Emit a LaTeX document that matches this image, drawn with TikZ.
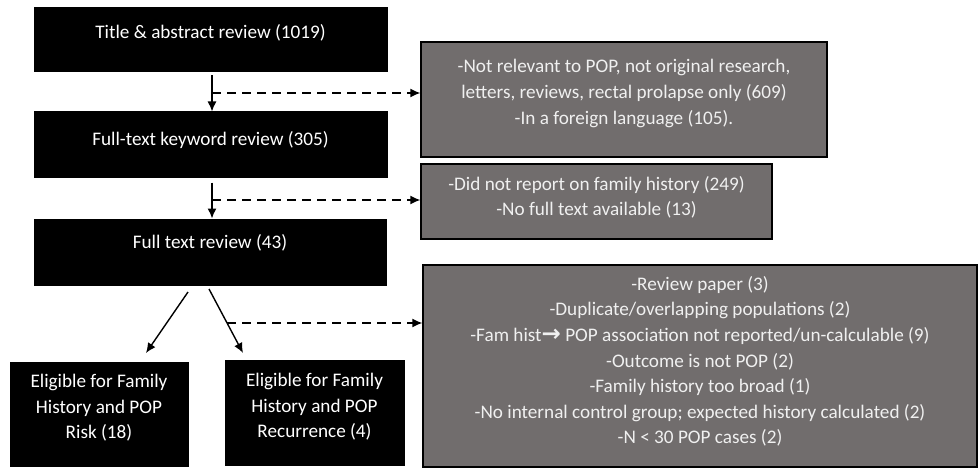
\documentclass[tikz,border=0pt]{standalone}
\usepackage{fontspec}
\setmainfont{Carlito}
\newfontfamily\arrowfont{DejaVu Sans Bold}
\usetikzlibrary{arrows.meta,calc}
\definecolor{boxgrey}{RGB}{113,109,109}
\definecolor{greytext}{RGB}{240,240,240}
\begin{document}
\begin{tikzpicture}[x=1pt,y=-1pt,
  blackbox/.style={draw=black,fill=black,line width=1pt,inner sep=0pt},
  greybox/.style={draw=black,fill=boxgrey,line width=1.3pt,inner sep=0pt},
  wtext/.style={text=white,align=center,inner sep=0pt,font=\fontsize{19.2}{25.6}\selectfont},
  gtext/.style={text=greytext,align=center,inner sep=0pt,font=\fontsize{19.2}{25.6}\selectfont},
  arr/.style={line width=1.4pt,-{Latex[length=10pt,width=9pt]}},
  darr/.style={line width=1.4pt,dash pattern=on 9pt off 6pt,-{Latex[length=10pt,width=9pt]}}]
\useasboundingbox (0,0) rectangle (979,468);
% black boxes
\node[blackbox,minimum width=353,minimum height=64] (b1) at (210.5,40) {};
\node[wtext] (t1) at (210.5,33) {Title \& abstract review (1019)};
\node[blackbox,minimum width=353,minimum height=65] (b2) at (210.5,144.5) {};
\node[wtext] (t2) at (210.5,140) {Full-text keyword review (305)};
\node[blackbox,minimum width=352,minimum height=66] (b3) at (210,252) {};
\node[wtext] (t3) at (210,243) {Full text review (43)};
\node[blackbox,minimum width=178,minimum height=104] (e1) at (99,414) {};
\node[wtext] (te1) at (99,408) {Eligible for Family\\History and POP\\Risk (18)};
\node[blackbox,minimum width=179,minimum height=105] (e2) at (314.5,412.5) {};
\node[wtext] (te2) at (314.5,407) {Eligible for Family\\History and POP\\Recurrence (4)};
% grey boxes
\node[greybox,minimum width=406,minimum height=115] (g1) at (624,99.5) {};
\node[gtext] (tg1) at (624,93.5) {-Not relevant to POP, not original research,\\letters, reviews, rectal prolapse only (609)\\-In a foreign language (105).};
\node[greybox,minimum width=351,minimum height=75] (g2) at (596.5,201.5) {};
\node[gtext] (tg2) at (596.5,197.5) {-Did not report on family history (249)\\-No full text available (13)};
\node[greybox,minimum width=554,minimum height=202] (g3) at (700,366) {};
\node[gtext] (tg3) at (700,361.5) {-Review paper (3)\\-Duplicate/overlapping populations (2)\\-Fam hist{\arrowfont\fontsize{23}{23}\selectfont\symbol{"2192}}\ POP association not reported/un-calculable (9)\\-Outcome is not POP (2)\\-Family history too broad (1)\\-No internal control group; expected history calculated (2)\\-N < 30 POP cases (2)};
% connectors
\coordinate (cx) at (212,0);
\coordinate (d1) at (212,93);
\coordinate (d2) at (212,200);
\coordinate (s3l) at (188,292);
\coordinate (e3l) at (146,353);
\coordinate (s3r) at (209,289);
\coordinate (e3r) at (243,353);
\coordinate (d3) at (227,323);
\draw[arr,shorten <=3pt] (b1.south -| cx) -- (b2.north -| cx);
\draw[darr] (d1) -- (d1 -| g1.west);
\draw[arr,shorten <=5pt] (b2.south -| cx) -- (b3.north -| cx);
\draw[darr] (d2) -- (d2 -| g2.west);
\draw[arr] (s3l) -- (e3l);
\draw[arr] (s3r) -- (e3r);
\draw[darr] (d3) -- (d3 -| g3.west);
\end{tikzpicture}
\end{document}
